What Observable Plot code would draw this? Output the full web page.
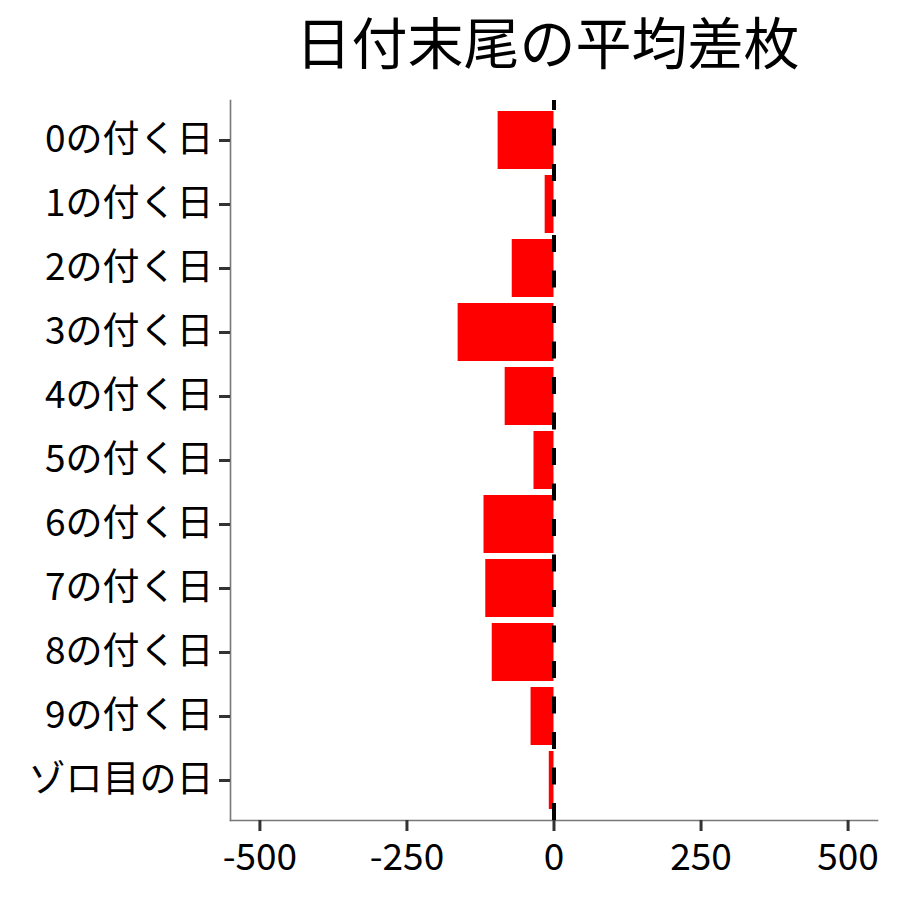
<!DOCTYPE html>
<html><head><meta charset="utf-8">
<script src="https://cdn.jsdelivr.net/npm/d3@7"></script>
<script src="https://cdn.jsdelivr.net/npm/@observablehq/plot@0.6"></script>
<style>
body{margin:0;background:#fff;}
#wrap{position:relative;width:900px;height:900px;}
#title{position:absolute;left:224px;width:647px;top:12px;text-align:center;font-family:"Noto Sans CJK JP";font-size:56px;line-height:1;color:#000;white-space:nowrap;}
#chart{position:absolute;left:0;top:0;}
</style></head><body>
<div id="wrap"><div id="chart"></div><div id="title">日付末尾の平均差枚</div></div>
<script>
const categories = ["0の付く日","1の付く日","2の付く日","3の付く日","4の付く日","5の付く日","6の付く日","7の付く日","8の付く日","9の付く日","ゾロ目の日"];
const values = [-95,-15,-71,-163,-83,-34,-119,-116,-105,-39,-8];
const xTicks = [-500,-250,0,250,500];
const xDomain = [-550,550];
const data = categories.map((c,i)=>({category:c, value:values[i]}));
const chart = Plot.plot({
  width:900, height:900,
  marginTop:100, marginBottom:80, marginLeft:230, marginRight:23,
  style:{fontFamily:'"Noto Sans CJK JP"', fontSize:"36px", color:"#000", background:"#fff"},
  x:{domain:xDomain, ticks:xTicks, label:null},
  y:{domain:categories, paddingInner:0.1, paddingOuter:0.15, label:null},
  marks:[
    Plot.barX(data,{x:"value", y:"category", fill:"#ff0000"}),
    Plot.frame({anchor:"left", stroke:"#777", strokeWidth:1.6}),
    Plot.frame({anchor:"bottom", stroke:"#777", strokeWidth:1.6}),
    Plot.ruleX([0],{stroke:"#000", strokeWidth:4, strokeDasharray:"17,18.5", strokeDashoffset:7}),
    Plot.axisX({ticks:xTicks, tickFormat:d=>String(d), tickSize:11, tickPadding:12, stroke:"#333", strokeWidth:3, fill:"#000", fontSize:37, label:null}),
    Plot.axisY({tickSize:11, tickPadding:6, stroke:"#333", strokeWidth:3, fill:"#000", fontSize:37, label:null})
  ]
});
document.getElementById("chart").appendChild(chart);
</script>
</body></html>
